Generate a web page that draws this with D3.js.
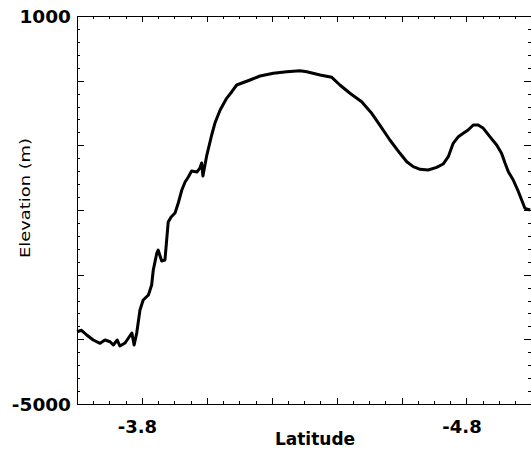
<!DOCTYPE html>
<html>
<head>
<meta charset="utf-8">
<script src="https://cdn.jsdelivr.net/npm/d3@7"></script>
<style>
  html, body { margin: 0; padding: 0; background: #fff; }
  svg { display: block; }
</style>
</head>
<body>
<svg id="chart" width="531" height="450"></svg>
<script>
// ---- data ----
const latitude = [
  -3.600, -3.614, -3.630, -3.650, -3.671, -3.686, -3.702, -3.712, -3.724, -3.732,
  -3.748, -3.769, -3.776, -3.784, -3.794, -3.804, -3.820, -3.830, -3.835, -3.846,
  -3.850, -3.861, -3.871, -3.881, -3.890, -3.902, -3.912, -3.923, -3.933, -3.943,
  -3.953, -3.970, -3.979, -3.984, -3.988, -4.000, -4.015, -4.025, -4.041, -4.061,
  -4.077, -4.092, -4.133, -4.164, -4.205, -4.246, -4.287, -4.308, -4.349, -4.385,
  -4.410, -4.441, -4.477, -4.508, -4.533, -4.564, -4.595, -4.616, -4.636, -4.657,
  -4.682, -4.708, -4.728, -4.744, -4.759, -4.775, -4.790, -4.805, -4.821, -4.836,
  -4.852, -4.872, -4.893, -4.908, -4.919, -4.929, -4.944, -4.960, -4.970, -4.980,
  -4.996
];
const elevation = [
  -3882, -3860, -3933, -4010, -4061, -4010, -4037, -4088, -4010, -4103,
  -4057, -3902, -4088, -3902, -3546, -3392, -3314, -3160, -2928, -2665,
  -2619, -2789, -2773, -2186, -2108, -2046, -1892, -1691, -1567, -1490,
  -1397, -1412, -1350, -1273, -1474, -1150, -840, -655, -454, -273,
  -171, -67, 10, 72, 114, 139, 154, 139, 88, 52,
  -67, -195, -325, -505, -686, -918, -1123, -1253, -1330, -1371,
  -1381, -1340, -1289, -1176, -969, -866, -814, -763, -686, -686,
  -737, -866, -995, -1123, -1278, -1408, -1536, -1717, -1845, -1974,
  -2000
];
const xLabelTicks = [-3.8, -4.8];
const yLabelTicks = [1000, -5000];
const xDomain = [-3.6, -5.0];
const yDomain = [-5000, 1000];
const xTitle = "Latitude";
const yTitle = "Elevation (m)";

// ---- layout ----
const L = 77, R = 531.4, T = 16, B = 404;
const svg = d3.select("#chart");
const x = d3.scaleLinear().domain(xDomain).range([L, R]);
const y = d3.scaleLinear().domain(yDomain).range([B, T]);

// tick values (integers to avoid float drift)
const xMajor = d3.range(36, 51, 2).map(v => -v / 10);      // every 0.2
const xMinor = d3.range(360, 501, 5).map(v => -v / 100)     // every 0.05
  .filter(v => !xMajor.some(m => Math.abs(m - v) < 1e-9));
const yMajor = d3.range(-5000, 1001, 1000);
const yMinor = d3.range(-5000, 1001, 200).filter(v => v % 1000 !== 0);

const axisColor = "#000";
function styleAxis(g) {
  g.select(".domain").remove();
  g.selectAll(".tick line").attr("stroke", axisColor).attr("stroke-width", 1);
  g.selectAll(".tick text").remove();
  g.attr("shape-rendering", "crispEdges");
}

// bottom
svg.append("g").attr("transform", `translate(0,${B})`)
  .call(d3.axisBottom(x).tickValues(xMajor).tickSize(-6).tickFormat("")).call(styleAxis);
svg.append("g").attr("transform", `translate(0,${B})`)
  .call(d3.axisBottom(x).tickValues(xMinor).tickSize(-3).tickFormat("")).call(styleAxis);
// top
svg.append("g").attr("transform", `translate(0,${T})`)
  .call(d3.axisTop(x).tickValues(xMajor).tickSize(-6).tickFormat("")).call(styleAxis);
svg.append("g").attr("transform", `translate(0,${T})`)
  .call(d3.axisTop(x).tickValues(xMinor).tickSize(-3).tickFormat("")).call(styleAxis);
// left
svg.append("g").attr("transform", `translate(${L},0)`)
  .call(d3.axisLeft(y).tickValues(yMajor).tickSize(-7).tickFormat("")).call(styleAxis);
svg.append("g").attr("transform", `translate(${L},0)`)
  .call(d3.axisLeft(y).tickValues(yMinor).tickSize(-3).tickFormat("")).call(styleAxis);
// right
svg.append("g").attr("transform", `translate(${R},0)`)
  .call(d3.axisRight(y).tickValues(yMajor).tickSize(-7).tickFormat("")).call(styleAxis);
svg.append("g").attr("transform", `translate(${R},0)`)
  .call(d3.axisRight(y).tickValues(yMinor).tickSize(-3).tickFormat("")).call(styleAxis);

// frame
svg.append("rect")
  .attr("x", L + 0.5).attr("y", T + 0.5)
  .attr("width", R - L).attr("height", B - T)
  .attr("fill", "none").attr("stroke", axisColor).attr("stroke-width", 1)
  .attr("shape-rendering", "crispEdges");

// line
const pts = latitude.map((d, i) => [d, elevation[i]]);
svg.append("path")
  .datum(pts)
  .attr("fill", "none")
  .attr("stroke", "#000")
  .attr("stroke-width", 3)
  .attr("stroke-linejoin", "round")
  .attr("d", d3.line().x(d => x(d[0])).y(d => y(d[1])));

// tick labels
const labelFont = "'DejaVu Sans', sans-serif";
svg.selectAll(".xlab").data(xLabelTicks).enter().append("text")
  .attr("x", d => x(d) - 4.5).attr("y", 433)
  .attr("text-anchor", "middle")
  .attr("font-family", labelFont).attr("font-weight", "bold").attr("font-size", 18)
  .attr("fill", "#000")
  .text(d => d.toFixed(1));

svg.selectAll(".ylab").data(yLabelTicks).enter().append("text")
  .attr("x", L - 6).attr("y", d => y(d) + 7)
  .attr("text-anchor", "end")
  .attr("font-family", labelFont).attr("font-weight", "bold").attr("font-size", 18.5)
  .attr("fill", "#000")
  .text(d => String(d));

// titles
svg.append("text")
  .attr("x", 315).attr("y", 445)
  .attr("text-anchor", "middle")
  .attr("font-family", labelFont).attr("font-weight", "bold").attr("font-size", 17)
  .attr("fill", "#000")
  .text(xTitle);

svg.append("text")
  .attr("transform", "translate(30,198) rotate(-90)")
  .attr("text-anchor", "middle")
  .attr("font-family", labelFont).attr("font-size", 14)
  .attr("textLength", 120).attr("lengthAdjust", "spacingAndGlyphs")
  .attr("fill", "#000")
  .text(yTitle);
</script>
</body>
</html>
